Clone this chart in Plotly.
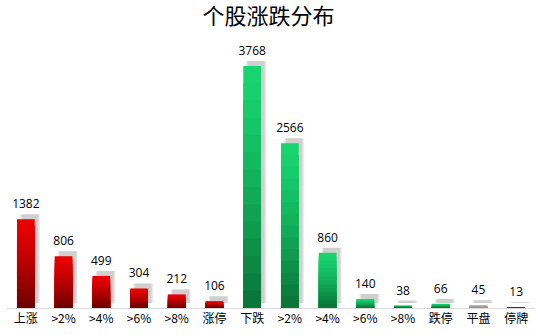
import plotly.graph_objects as go

categories = ["上涨", ">2%", ">4%", ">6%", ">8%", "涨停", "下跌", ">2% ", ">4% ", ">6% ", ">8% ", "跌停", "平盘", "停牌"]
tick_labels = ["上涨", ">2%", ">4%", ">6%", ">8%", "涨停", "下跌", ">2%", ">4%", ">6%", ">8%", "跌停", "平盘", "停牌"]
values = [1382, 806, 499, 304, 212, 106, 3768, 2566, 860, 140, 38, 66, 45, 13]
groups = ["up"] * 6 + ["down"] * 6 + ["flat", "halt"]

top_colors = {"up": (232, 0, 0), "down": (22, 212, 110), "flat": (185, 185, 185), "halt": (75, 75, 75)}
bot_colors = {"up": (112, 0, 0), "down": (10, 118, 58), "flat": (150, 150, 150), "halt": (55, 55, 55)}

N_STEPS = 14
BAR_W = 0.47
SHIFT = 0.11

fig = go.Figure()

# soft shadow (drawn on y axis shifted up by a few px)
for w, a in [(BAR_W + 0.07, 0.05), (BAR_W + 0.02, 0.08), (BAR_W - 0.04, 0.07)]:
    fig.add_trace(go.Bar(
        x=categories, y=values, width=w, offset=-BAR_W / 2 + SHIFT - (w - BAR_W) / 2,
        marker=dict(color=f"rgba(0,0,0,{a})", line=dict(width=0)),
        xaxis="x", yaxis="y", hoverinfo="skip", showlegend=False,
    ))

# value labels
fig.add_trace(go.Scatter(
    x=categories, y=values, mode="text",
    text=[str(v) for v in values], textposition="top center",
    textfont=dict(family="Open Sans", size=12, color="#000000"),
    cliponaxis=False, xaxis="x", yaxis="y3", hoverinfo="skip", showlegend=False,
))

def mix(c1, c2, t):
    return "rgb(%d,%d,%d)" % tuple(round(a + (b - a) * t) for a, b in zip(c1, c2))

# gradient bars: overlaid from full height down to small fractions
for k in range(N_STEPS):
    frac = (N_STEPS - k) / N_STEPS
    t = (k / (N_STEPS - 1)) ** 1.3
    cols = [mix(top_colors[g], bot_colors[g], t) for g in groups]
    fig.add_trace(go.Bar(
        x=categories, y=[v * frac for v in values], width=BAR_W, offset=-BAR_W / 2,
        marker=dict(color=cols, line=dict(width=0)),
        xaxis="x", yaxis="y2", hoverinfo="skip", showlegend=False,
    ))

plot_h = 335 - 43 - 27
d = 5 / plot_h
d2 = 8 / plot_h

fig.update_layout(
    width=537, height=335,
    margin=dict(l=7, r=2, t=43, b=27),
    barmode="overlay",
    plot_bgcolor="rgba(0,0,0,0)", paper_bgcolor="white",
    title=dict(text="个股涨跌分布", x=0.5, xanchor="center", y=0.951, yanchor="middle",
               font=dict(family="Noto Sans CJK SC", size=22, color="#000000")),
    xaxis=dict(anchor="y2", tickvals=categories, ticktext=tick_labels, range=[-0.5, 13.5],
               showgrid=False, showline=True, linecolor="#d9d9d9", linewidth=1,
               ticks="", tickfont=dict(family="Noto Sans CJK SC", size=12, color="#000000"),
               fixedrange=True),
    yaxis=dict(domain=[d, 1 - d2 + d], range=[0, 4000], visible=False, showgrid=False, fixedrange=True),
    yaxis2=dict(domain=[0, 1 - d2], range=[0, 4000], visible=False, showgrid=False, fixedrange=True),
    yaxis3=dict(domain=[d2, 1], range=[0, 4000], visible=False, showgrid=False, fixedrange=True),
    font=dict(family="Noto Sans CJK SC"),
)

fig.write_html("out.html")
